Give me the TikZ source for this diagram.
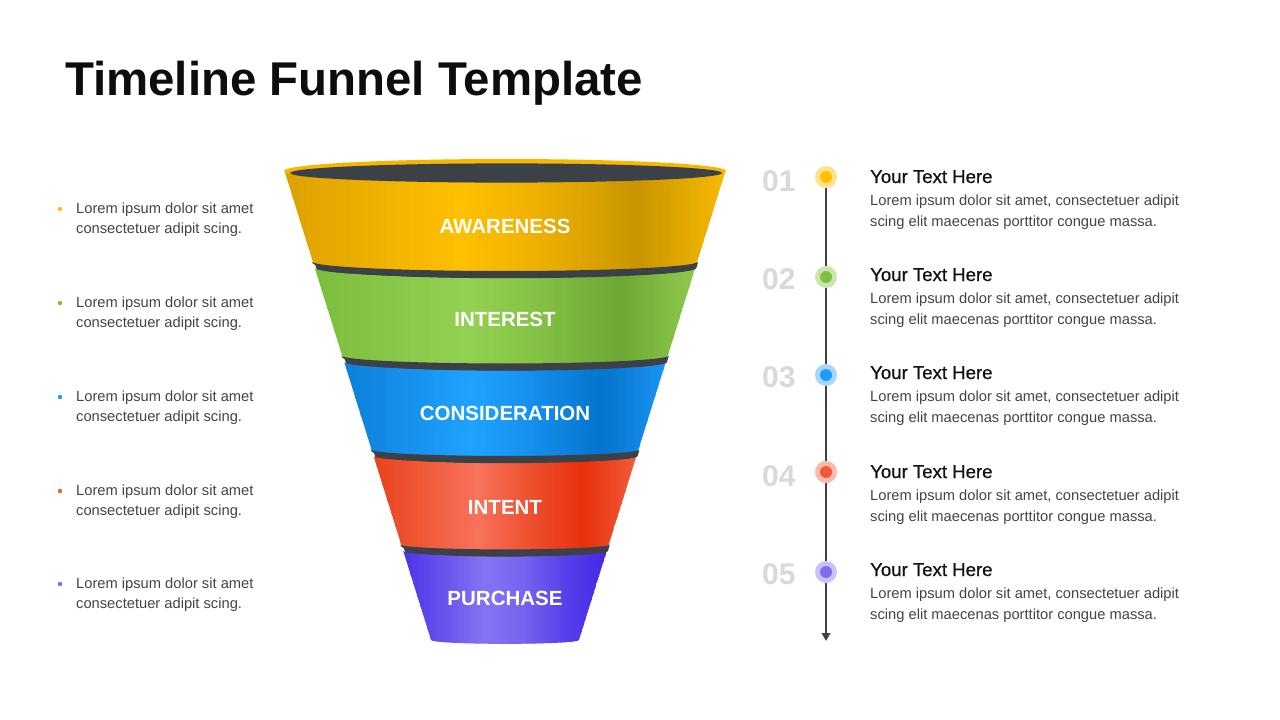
\documentclass[tikz,border=0pt]{standalone}
\usepackage{fontspec}
\setmainfont{Liberation Sans}
\newfontfamily\headfont[FakeBold=0.7]{Liberation Sans}
\usetikzlibrary{arrows.meta}
\definecolor{cyel}{HTML}{FFC000}\definecolor{cyelL}{HTML}{FFE08C}
\definecolor{cgrn}{HTML}{7CC142}\definecolor{cgrnL}{HTML}{C9E6AE}
\definecolor{cblu}{HTML}{1E9BFF}\definecolor{cbluL}{HTML}{A9D6FF}
\definecolor{cred}{HTML}{F05A3C}\definecolor{credL}{HTML}{F8B9AA}
\definecolor{cpur}{HTML}{7B6CF0}\definecolor{cpurL}{HTML}{C9C2FA}
\definecolor{rimdark}{HTML}{3C4047}
\definecolor{rimyel}{HTML}{F5B700}
\definecolor{bodytxt}{HTML}{444444}
\definecolor{numgray}{HTML}{D9D9D9}
\definecolor{tline}{HTML}{3F4146}
% gradient colours (stops at 0, 0.4, 0.58, 0.8, 1 of the band width)
\definecolor{y0}{HTML}{DCA100}\definecolor{y1}{HTML}{FFC000}\definecolor{y2}{HTML}{EDB000}\definecolor{y3}{HTML}{C99400}\definecolor{y4}{HTML}{F7BA00}
\definecolor{g0}{HTML}{7BBD3D}\definecolor{g1}{HTML}{93D152}\definecolor{g2}{HTML}{84C245}\definecolor{g3}{HTML}{6CA733}\definecolor{g4}{HTML}{8DCA4C}
\definecolor{b0}{HTML}{0C80DA}\definecolor{b1}{HTML}{1FA2FF}\definecolor{b2}{HTML}{1590EE}\definecolor{b3}{HTML}{0574CC}\definecolor{b4}{HTML}{1A94F4}
\definecolor{r0}{HTML}{E8421C}\definecolor{r1}{HTML}{F8725A}\definecolor{r2}{HTML}{EE5232}\definecolor{r3}{HTML}{E8300C}\definecolor{r4}{HTML}{F25C3A}
\definecolor{p0}{HTML}{4C33E8}\definecolor{p1}{HTML}{8474F3}\definecolor{p2}{HTML}{7666F1}\definecolor{p3}{HTML}{5640EA}\definecolor{p4}{HTML}{4428E6}
% band body: #1 top y, #2 bottom y, #3 colour prefix
\newcommand\FunnelBody[3]{%
 \pgfmathsetmacro\hwt{220.5-0.3125*(#1-171)}%
 \pgfmathsetmacro\hwb{220.5-0.3125*(#2-171)}%
 \pgfmathsetmacro\ryt{0.052*\hwt}%
 \pgfmathsetmacro\ryb{0.052*\hwb}%
 \begin{scope}
 \clip ({505-\hwt},#1) -- ({505-\hwb},#2)
   .. controls ({505-\hwb},{#2+0.5523*\ryb}) and ({505-0.5523*\hwb},{#2+\ryb}) .. (505,{#2+\ryb})
   .. controls ({505+0.5523*\hwb},{#2+\ryb}) and ({505+\hwb},{#2+0.5523*\ryb}) .. ({505+\hwb},#2)
   -- ({505+\hwt},#1)
   .. controls ({505+\hwt},{#1+0.5523*\ryt}) and ({505+0.5523*\hwt},{#1+\ryt}) .. (505,{#1+\ryt})
   .. controls ({505-0.5523*\hwt},{#1+\ryt}) and ({505-\hwt},{#1+0.5523*\ryt}) .. cycle;
 \foreach \fa/\fb/\ca/\cb in {0/0.4/#30/#31, 0.4/0.58/#31/#32, 0.58/0.8/#32/#33, 0.8/1/#33/#34}{
  \foreach \m in {0,...,23}{
   \pgfmathsetmacro\xa{505-\hwt+2*\hwt*(\fa+(\fb-\fa)*\m/24)}%
   \pgfmathsetmacro\xb{505-\hwt+2*\hwt*(\fa+(\fb-\fa)*(\m+1)/24)+0.8}%
   \pgfmathtruncatemacro\pc{round(100*(\m+0.5)/24)}%
   \fill[\cb!\pc!\ca] (\xa,{#1-15}) rectangle (\xb,{#2+15});
  }
 }
 \end{scope}}
% dark crescent between two bands, drawn on top of both
\newcommand\FunnelGap[2]{%
 \pgfmathsetmacro\gpa{221.7-0.3125*(#1-171)}%
 \pgfmathsetmacro\gpb{221.7-0.3125*(#2-171)}%
 \pgfmathsetmacro\rgpa{0.052*(\gpa-1.2)-0.5}%
 \pgfmathsetmacro\rgpb{0.052*(\gpb-1.2)+0.3}%
 \fill[rimdark] ({505-\gpa},{#1-0.5})
   .. controls ({505-\gpa},{#1-0.5+0.5523*\rgpa}) and ({505-0.5523*\gpa},{#1-0.5+\rgpa}) .. (505,{#1-0.5+\rgpa})
   .. controls ({505+0.5523*\gpa},{#1-0.5+\rgpa}) and ({505+\gpa},{#1-0.5+0.5523*\rgpa}) .. ({505+\gpa},{#1-0.5})
   -- ({505+\gpb},#2)
   .. controls ({505+\gpb},{#2+0.5523*\rgpb}) and ({505+0.5523*\gpb},{#2+\rgpb}) .. (505,{#2+\rgpb})
   .. controls ({505-0.5523*\gpb},{#2+\rgpb}) and ({505-\gpb},{#2+0.5523*\rgpb}) .. cycle;}
\tikzset{
 bandlabel/.style={text=white, font=\bfseries\fontsize{20.5}{24}\selectfont, inner sep=0},
 txt/.style={anchor=base west, inner sep=0, text=bodytxt, font=\fontsize{14.7}{18}\selectfont},
 headtxt/.style={anchor=base west, inner sep=0, text=black!93, font=\headfont\fontsize{18.6}{22}\selectfont},
 numtxt/.style={anchor=base west, inner sep=0, text=numgray, font=\bfseries\fontsize{30}{34}\selectfont},
 bulletdot/.style={circle, inner sep=0, minimum size=4.4pt},
 outerdot/.style={circle, inner sep=0, minimum size=22pt},
 innerdot/.style={circle, inner sep=0, minimum size=12pt},
}
\begin{document}
\begin{tikzpicture}[x=1pt,y=-1pt]
\useasboundingbox (0,0) rectangle (1280,720);
\fill[white] (0,0) rectangle (1280,720);
\node[anchor=base west, inner sep=0, text=black!95, font=\bfseries\fontsize{47.4}{56}\selectfont] (title) at (65,95) {Timeline Funnel Template};
% funnel: dark backing inside the silhouette, then the bands and the gaps
\fill[rimdark] (295.06,200) -- (714.94,200) -- (583.69,620) -- (426.31,620) -- cycle;
\FunnelBody{551}{640}{p}
\FunnelBody{456}{545}{r}
\FunnelBody{362}{450}{b}
\FunnelBody{268}{356}{g}
\FunnelBody{171}{262}{y}
\FunnelGap{545}{551}
\FunnelGap{450}{456}
\FunnelGap{356}{362}
\FunnelGap{262}{268}
\fill[rimyel] (505,171) ellipse[x radius=221pt, y radius=12pt];
\fill[rimdark] (506,173) ellipse[x radius=216pt, y radius=9.6pt];
\node[bandlabel] (f1) at (505,226) {AWARENESS};
\node[bandlabel] (f2) at (505,319) {INTEREST};
\node[bandlabel] (f3) at (505,413) {CONSIDERATION};
\node[bandlabel] (f4) at (505,507) {INTENT};
\node[bandlabel] (f5) at (505,598) {PURCHASE};
% left texts
\foreach \i/\y/\c in {1/209/cyel,2/303/cgrn,3/397/cblu,4/491/cred,5/584/cpur}{
 \node[bulletdot, fill=\c] (b\i) at (60,\y) {};
 \node[txt] (la\i) at (76,{\y+4}) {Lorem ipsum dolor sit amet};
 \node[txt] (lb\i) at (76,{\y+24}) {consectetuer adipit scing.};
}
% timeline
\coordinate (tend) at (826,641);
\node[outerdot] (o1) at (826,177) {};
\draw[tline, line width=2.8pt, -{Triangle[width=8.5pt,length=8pt]}] (o1.center) -- (tend);
\foreach \i/\dy/\hy/\c in {1/177/176/cyel,2/277/274/cgrn,3/375/372/cblu,4/472/471/cred,5/572/569/cpur}{
 \node[outerdot, fill=\c L] (od\i) at (826,\dy) {};
 \node[innerdot, fill=\c] (d\i) at (826,\dy) {};
 \node[numtxt] (n\i) at (762,{\hy+15}) {0\i};
 \node[headtxt] (h\i) at (870,{\hy+7}) {Your Text Here};
 \node[txt] (ra\i) at (870,{\hy+29}) {Lorem ipsum dolor sit amet, consectetuer adipit};
 \node[txt] (rb\i) at (870,{\hy+50}) {scing elit maecenas porttitor congue massa.};
}
\end{tikzpicture}
\end{document}
